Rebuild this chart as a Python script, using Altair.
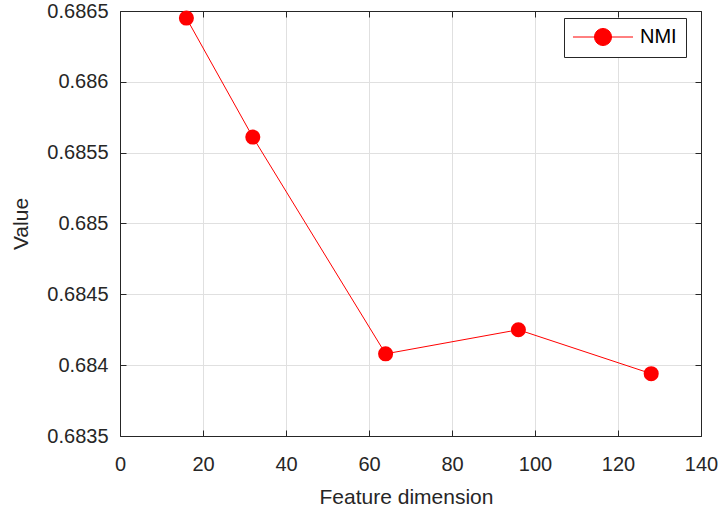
import altair as alt
import pandas as pd

# ---- data ----
dims = [16, 32, 64, 96, 128]
nmi = [0.68645, 0.68561, 0.68408, 0.68425, 0.68394]
series = ["NMI"] * len(dims)
x_ticks = [0, 20, 40, 60, 80, 100, 120, 140]
y_ticks = [0.6835, 0.684, 0.6845, 0.685, 0.6855, 0.686, 0.6865]

df = pd.DataFrame({"dim": dims, "value": nmi, "series": series})

FONT = "Liberation Sans"
AX = "#262626"
RED = "#ff0000"
inward = {"expr": "-6"}

xs = alt.Scale(domain=[0, 140], nice=False, zero=False)
ys = alt.Scale(domain=[0.6835, 0.6865], nice=False, zero=False)

# legend glyph: a short line with a filled circle on it
legend_symbol = ("M-3.16,0L3.16,0M-0.895,0A0.895,0.895,0,1,0,0.895,0"
                 "A0.895,0.895,0,1,0,-0.895,0Z")

color = alt.Color(
    "series:N",
    scale=alt.Scale(domain=["NMI"], range=[RED]),
    legend=alt.Legend(
        title=None, orient="none", legendX=444, legendY=7,
        symbolType=legend_symbol, symbolSize=361, symbolOffset=20,
        symbolFillColor=RED, symbolStrokeColor=RED, symbolStrokeWidth=1,
        symbolOpacity=1,
        labelFont=FONT, labelFontSize=20, labelColor="black", labelOffset=27,
        padding=9, strokeColor=AX, fillColor="white", cornerRadius=0,
    ),
)

x_main = alt.X(
    "dim:Q", scale=xs,
    axis=alt.Axis(
        orient="bottom", values=x_ticks, grid=True, gridColor="#e0e0e0",
        tickSize=inward, tickColor=AX, domainColor=AX,
        labelColor=AX, labelFont=FONT, labelFontSize=20, labelFlush=False,
        labelPadding=40, labelBaseline="alphabetic",
        title="Feature dimension", titleFont=FONT, titleFontSize=21,
        titleFontWeight="normal", titleColor=AX,
        titleX=286, titleY=67, titleBaseline="alphabetic",
    ),
)
y_main = alt.Y(
    "value:Q", scale=ys,
    axis=alt.Axis(
        orient="left", values=y_ticks, format=".4~f", grid=True,
        gridColor="#e0e0e0", tickSize=inward, tickColor=AX, domainColor=AX,
        labelColor=AX, labelFont=FONT, labelFontSize=20, labelPadding=18,
        labelFlush=False,
        title="Value", titleFont=FONT, titleFontSize=21,
        titleFontWeight="normal", titleColor=AX,
        titleX=-99, titleY=212.5, titleBaseline="middle",
    ),
)

base = alt.Chart(df)

line = base.mark_line(strokeWidth=1).encode(x=x_main, y=y_main, color=color)

points = base.mark_point(filled=True, size=227, opacity=1).encode(
    x=alt.X("dim:Q", scale=xs, axis=None),
    y=alt.Y("value:Q", scale=ys, axis=None),
    color=color,
)

ghost = base.mark_point(opacity=0).encode(
    x=alt.X("dim:Q", scale=xs, axis=alt.Axis(
        orient="top", values=x_ticks, labels=False, title=None, grid=False,
        tickSize=inward, tickColor=AX, domainColor=AX)),
    y=alt.Y("value:Q", scale=ys, axis=alt.Axis(
        orient="right", values=y_ticks, labels=False, title=None, grid=False,
        tickSize=inward, tickColor=AX, domainColor=AX)),
)

chart = (
    alt.layer(line, points, ghost)
    .resolve_axis(x="independent", y="independent")
    .properties(
        width=581, height=425, autosize=alt.AutoSizeParams(type="none"),
        padding={"left": 120, "top": 11, "right": 19, "bottom": 76},
        background="white",
    )
    .configure_view(stroke=None)
)

chart.save("out.html", embed_options={"renderer": "svg", "actions": False})
